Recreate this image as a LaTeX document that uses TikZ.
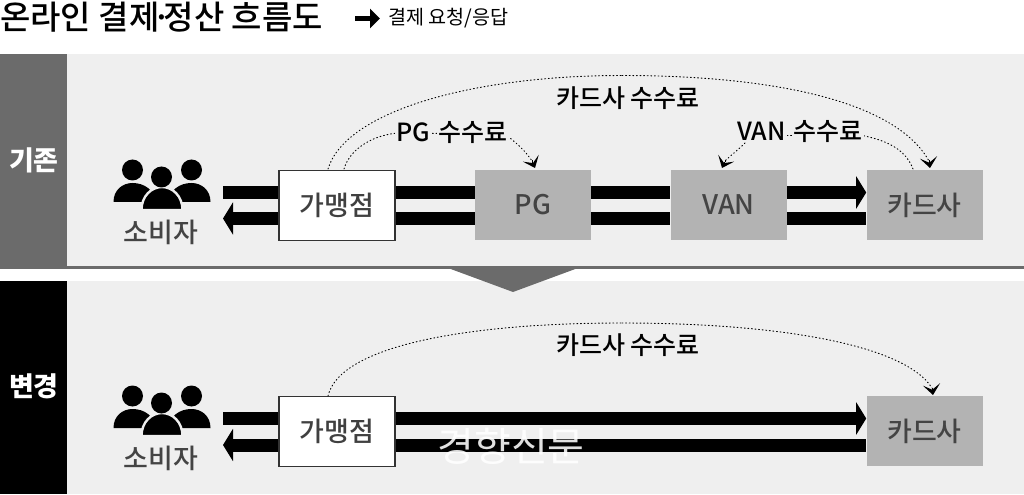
\documentclass[tikz,border=0pt]{standalone}
\usepackage{fontspec}
\setmainfont{Noto Sans CJK KR}
\newfontfamily\med{Noto Sans CJK KR Medium}
\usetikzlibrary{arrows.meta,calc}
\definecolor{panel}{HTML}{EFEFEF}
\definecolor{bandgrey}{HTML}{6B6B6B}
\definecolor{boxgrey}{HTML}{B3B3B3}
\definecolor{inkgrey}{HTML}{444444}
\newcommand{\fs}[1]{\fontsize{\dimexpr#1pt*3/4\relax}{\dimexpr#1pt*3/4\relax}\selectfont}
\tikzset{
  x=0.75pt,y=-0.75pt,
  band/.style={text=white,font=\fs{27}\bfseries,anchor=center,inner sep=0pt},
  ebox/.style={rectangle,minimum width=87pt,minimum height=53pt,inner sep=0pt,font=\med\fs{27},text=inkgrey},
  whitebox/.style={ebox,fill=white,draw=black!80,line width=0.8pt,text=black!75},
  greybox/.style={ebox,fill=boxgrey},
  who/.style={font=\med\fs{27},text=inkgrey,inner sep=0pt},
  fee/.style={font=\med\fs{25},text=black,inner sep=0pt},
  feeline/.style={line width=0.7pt,dotted,line cap=round},
  feetip/.style={-{Stealth[length=8pt,width=13pt,inset=4pt]},line width=0pt,draw=black},
  bar/.style={line width=9.75pt,black},
  barhead/.style={bar,-{Triangle[length=7.5pt,width=24pt]}},
  users/.pic={
    \fill[black] (-29,-7) circle[radius=10.5];
    \fill[black] (30,-7) circle[radius=10.5];
    \fill[black] (-48,25) .. controls (-48,13) and (-39,6) .. (-29,6) .. controls (-17,6) and (-8,13) .. (-4,25) -- cycle;
    \fill[black] (49,25) .. controls (49,13) and (40,6) .. (30,6) .. controls (18,6) and (9,13) .. (5,25) -- cycle;
    \fill[black,draw=panel,line width=1.8pt] (-20,33) .. controls (-20,19) and (-10,10) .. (0.5,10) .. controls (11,10) and (21,19) .. (21,33) -- cycle;
    \fill[black] (0,0) circle[radius=10.5];
  }
}
\begin{document}
\begin{tikzpicture}
\useasboundingbox (0,0) rectangle (1024,495);
% panels
\fill[panel] (67,54) rectangle (1024,266);
\fill[bandgrey] (0,54) rectangle (67,268);
\fill[panel] (67,281) rectangle (1024,494);
\fill[black] (0,281) rectangle (67,494);
\fill[bandgrey] (0,266) rectangle (1024,269);
\fill[bandgrey] (448,268) -- (578,268) -- (513,292) -- cycle;
\node[band] (old) at (34,160) {기존};
\node[band] (new) at (34,386) {변경};
% title
\node[anchor=west,inner sep=0pt,font=\med\fs{33}] (title) at (0,17) {온라인 결제\kern-5.5pt·\kern-5.5pt정산 흐름도};
\coordinate (legA) at (355,18.5);
\coordinate (legB) at (380,18.5);
\draw[line width=4.2pt,-{Triangle[length=7.5pt,width=14.5pt]}] (legA) -- (legB);
\node[anchor=west,inner sep=0pt,font=\fs{19.6}] (legend) at (388,18) {결제 요청/응답};
% row 1
\pic at (161.5,177) {users};
\node[who] (cons1) at (161,232) {소비자};
\node[whitebox] (mer1) at (337,205.5) {가맹점};
\node[greybox] (pg) at (533,205) {PG};
\node[greybox] (van) at (728.5,205) {VAN};
\node[greybox] (card1) at (924.5,205) {카드사};
\coordinate (o1a) at (223,192.5);
\coordinate (o1b) at (223,218.5);
\draw[bar] (o1a) -- (mer1.west |- o1a);
\draw[barhead,{Triangle[length=7.5pt,width=24pt]}-] (o1b) -- (mer1.west |- o1b);
\draw[bar] (mer1.east |- o1a) -- (pg.west |- o1a);
\draw[bar] (mer1.east |- o1b) -- (pg.west |- o1b);
\draw[bar] (pg.east |- o1a) -- (van.west |- o1a);
\draw[bar] (pg.east |- o1b) -- (van.west |- o1b);
\draw[barhead] (van.east |- o1a) -- (card1.west |- o1a);
\draw[bar] (van.east |- o1b) -- (card1.west |- o1b);
% fee curves row 1
\coordinate (f1s) at (328,169);
\coordinate (f1m) at (622,75.5);
\coordinate (f1e) at (930,168);
\coordinate (f2s) at (344,169);
\coordinate (f2e) at (535,168);
\coordinate (f3s) at (913,169);
\coordinate (f3e) at (722,168);
\draw[feeline] (f1s) .. controls (345,112) and (470,75.5) .. (f1m);
\draw[feeline] (f1m) .. controls (770,75.5) and (895,100) .. ($(f1e)+(-1,-7)$);
\draw[feetip] ($(f1e)+(-1,-7)$) -- (f1e);
\draw[feeline] (f2s) .. controls (350,148) and (375,134) .. (400,133);
\draw[feeline] (400,133) -- (505,134);
\draw[feeline] (505,134) .. controls (515,142) and (525,150) .. ($(f2e)+(-3,-7)$);
\draw[feetip] ($(f2e)+(-3,-7)$) -- (f2e);
\draw[feeline] (f3s) .. controls (905,148) and (885,140) .. (860,135);
\draw[feeline] (860,135) -- (745,135);
\draw[feeline] (745,143) .. controls (738,150) and (730,156) .. ($(f3e)+(3,-7)$);
\draw[feetip] ($(f3e)+(3,-7)$) -- (f3e);
\node[fee] (l1) at (628,98) {카드사 수수료};
\node[fee] (l2) at (452,133) {\setlength{\fboxsep}{1pt}\colorbox{panel}{PG} \colorbox{panel}{수수료}};
\node[fee] (l3) at (800,131.5) {\setlength{\fboxsep}{1pt}\colorbox{panel}{VAN} \colorbox{panel}{수수료}};
% row 2
\pic at (161.5,403) {users};
\node[who] (cons2) at (161,458) {소비자};
\node[whitebox] (mer2) at (337,431.5) {가맹점};
\node[greybox] (card2) at (924.5,431) {카드사};
\coordinate (o2a) at (223,418.5);
\coordinate (o2b) at (223,445);
\draw[bar] (o2a) -- (mer2.west |- o2a);
\draw[barhead,{Triangle[length=7.5pt,width=24pt]}-] (o2b) -- (mer2.west |- o2b);
\draw[barhead] (mer2.east |- o2a) -- (card2.west |- o2a);
\draw[bar] (mer2.east |- o2b) -- (card2.west |- o2b);
\coordinate (g1s) at (328,396);
\coordinate (g1m) at (622,323);
\coordinate (g1e) at (933,395);
\draw[feeline] (g1s) .. controls (340,345) and (470,323) .. (g1m);
\draw[feeline] (g1m) .. controls (780,323) and (905,345) .. ($(g1e)+(-1,-7)$);
\draw[feetip] ($(g1e)+(-1,-7)$) -- (g1e);
\node[fee] (l4) at (628,345) {카드사 수수료};
% watermark
\node[font=\fs{40},text=white,text opacity=0.88,inner sep=0pt] (mark) at (511,446) {경향신문};
\end{tikzpicture}
\end{document}
